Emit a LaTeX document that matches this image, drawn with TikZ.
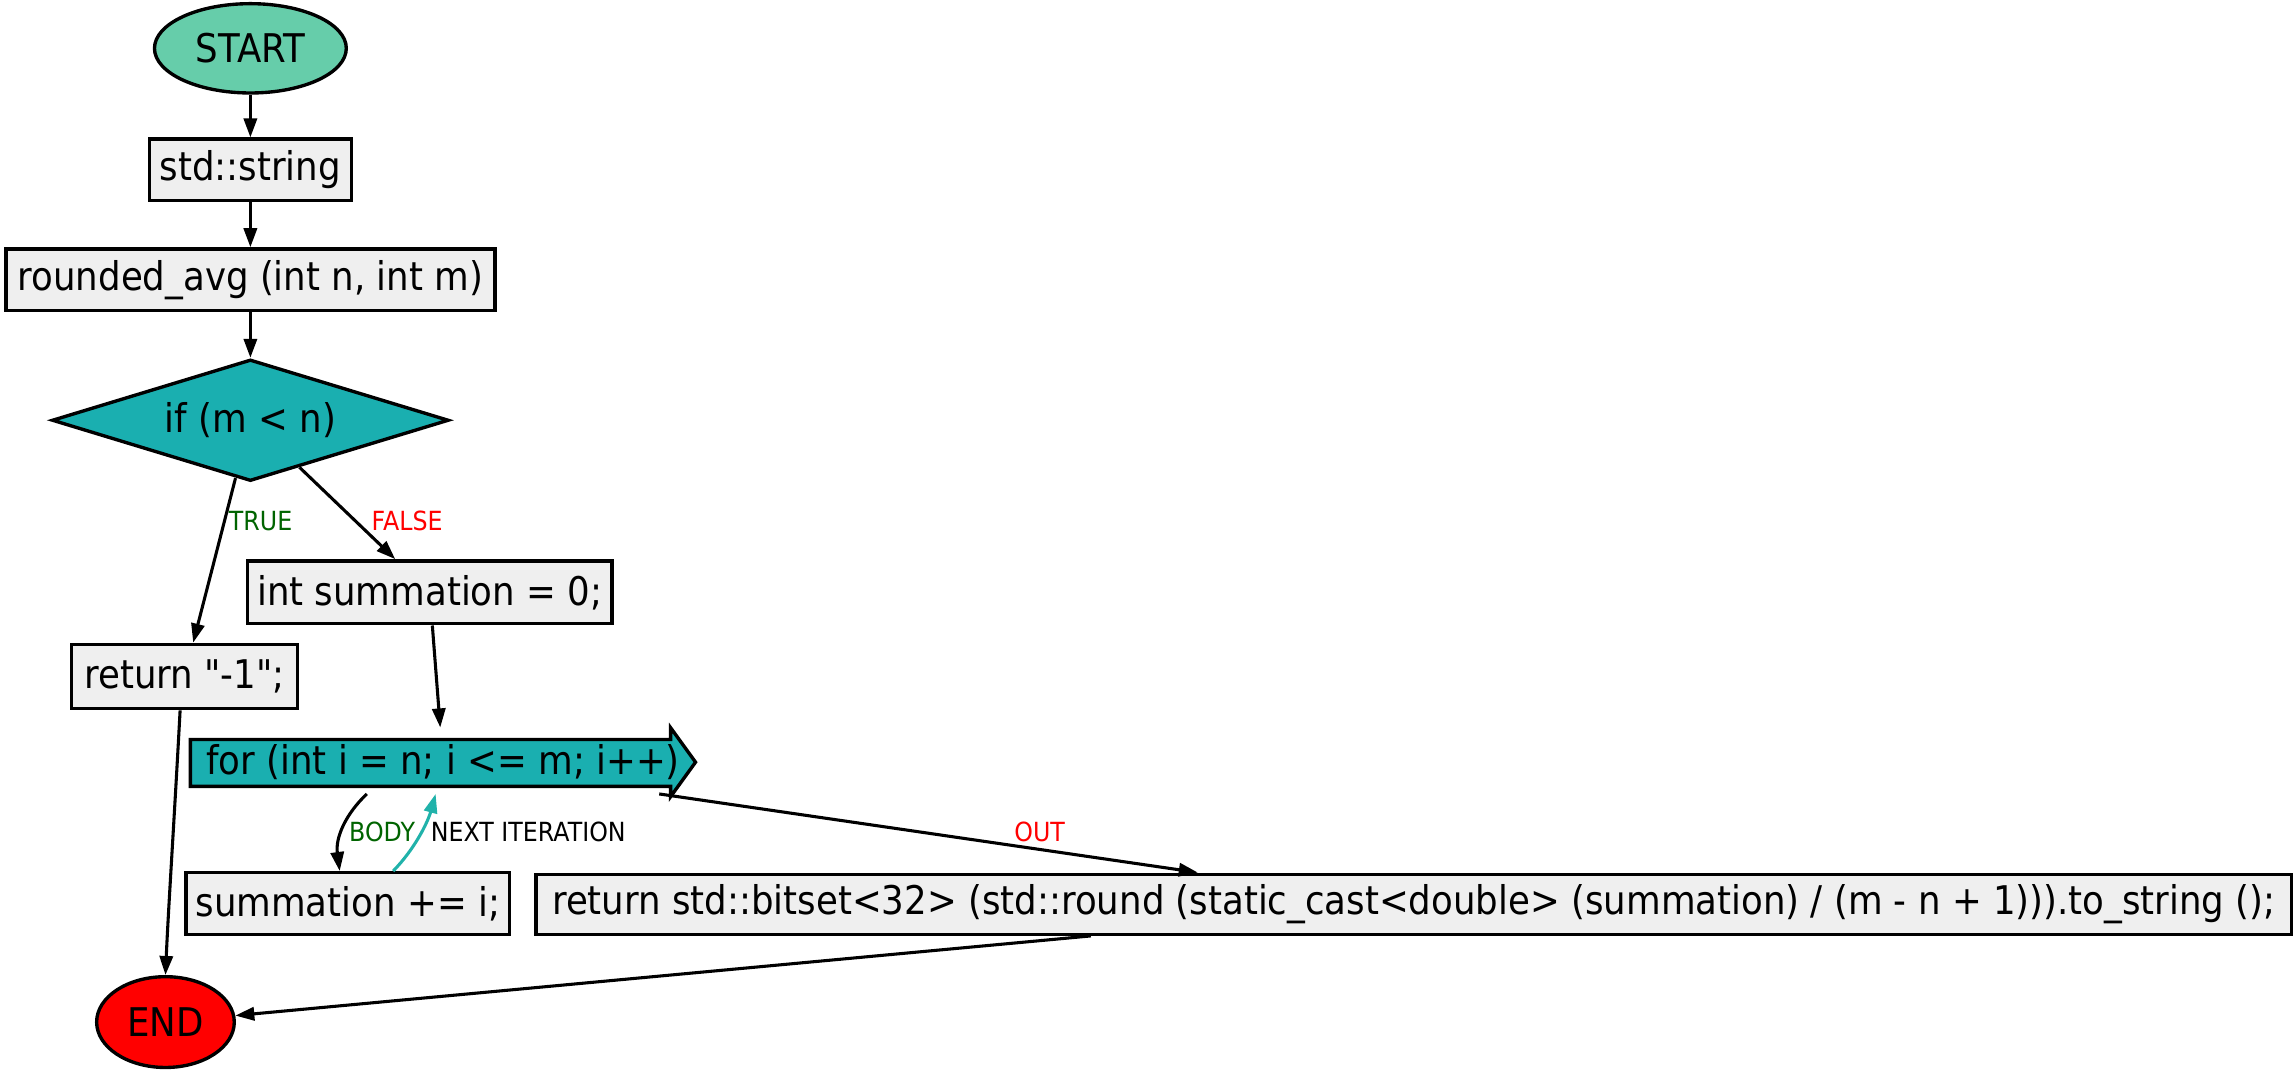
\documentclass[tikz,border=0pt]{standalone}
\usepackage{fontspec}
\setmainfont{DejaVu Sans}[FakeStretch=0.9, Ligatures=TeXOff]
\usetikzlibrary{shapes.geometric,arrows.meta,calc}
\definecolor{startfill}{HTML}{66CDAA}
\definecolor{tealfill}{HTML}{1AAFB0}
\definecolor{boxfill}{HTML}{EFEFEF}
\definecolor{endfill}{HTML}{FF0000}
\definecolor{lblgreen}{HTML}{006400}
\definecolor{lblred}{HTML}{FF0000}
\definecolor{nextcol}{HTML}{20B2AA}
\tikzset{
  mainfont/.style={font=\fontsize{27}{30}\selectfont},
  lblfont/.style={font=\fontsize{18}{20}\selectfont},
  stmt/.style={draw=black, line width=2.3pt, fill=boxfill, rectangle, inner sep=0pt, mainfont},
  term/.style={draw=black, line width=2.3pt, ellipse, inner sep=0pt, mainfont},
  decision/.style={draw=black, line width=2.3pt, diamond, fill=tealfill, inner sep=0pt, shape aspect=3.26, mainfont},
  loopbox/.style={rectangle, inner sep=0pt, mainfont},
  flow/.style={line width=2.1pt, -{Triangle[length=13pt,width=9pt]}},
  lbl/.style={inner sep=0pt, lblfont}
}
\begin{document}
\begin{tikzpicture}[x=1pt,y=-1pt]
\useasboundingbox (0,0) rectangle (1568,734);
% loop shape (cds)
\path[fill=tealfill, draw=black, line width=2.3pt, line join=miter]
  (130,505) -- (458,505) -- (458,497) -- (475,520.5) -- (458,544) -- (458,537) -- (130,537) -- cycle;
\node[term, fill=startfill, minimum width=131pt, minimum height=61pt] (start) at (171,33) {START};
\node[stmt, minimum width=138pt, minimum height=42pt] (str) at (171,116) {std::string};
\node[stmt, minimum width=334pt, minimum height=42pt] (func) at (171,191) {rounded\_avg (int n, int m)};
\node[decision, minimum width=271pt, minimum height=83pt] (cond) at (171,287) {if (m < n)};
\node[stmt, minimum width=249pt, minimum height=43pt] (init) at (293.5,404.5) {int summation = 0;};
\node[stmt, minimum width=154pt, minimum height=44pt] (ret1) at (126,462) {return "-1";};
\node[loopbox, minimum width=345pt, minimum height=47pt] (loop) at (302.5,520.5) {for (int i = n; i <= m; i++)};
\node[stmt, minimum width=221pt, minimum height=42pt] (summ) at (237.5,617) {summation += i;};
\node[stmt, minimum width=1199pt, minimum height=41pt] (ret) at (965.5,617.5) {return std::bitset<32> (std::round (static\_cast<double> (summation) / (m - n + 1))).to\_string ();};
\node[term, fill=endfill, minimum width=94pt, minimum height=62pt] (end) at (113,698) {END};
% edges
\draw[flow] (start) -- (str);
\draw[flow] (str) -- (func);
\draw[flow] (func) -- (cond);
\draw[flow] (cond) -- (ret1);
\draw[flow] (cond) -- (init);
\draw[flow] (init) -- (loop);
\draw[flow] ($(ret1.south)+(-3,0)$) .. controls (119,560) and (115,620) .. (end.north);
\draw[flow] ($(loop.south)+(-52,-2)$) .. controls (236,556) and (229,572) .. ($(summ.north)+(-5.5,0)$);
\draw[flow, draw=nextcol, -{Triangle[length=13pt,width=9pt,fill=nextcol]}] ($(summ.north)+(31,0)$) .. controls (283,580) and (292,562) .. ($(loop.south)+(-5,-2)$);
\draw[flow] ($(loop.south east)+(-25,-2)$) -- ($(ret.north)+(-147.5,0)$);
\draw[flow] ($(ret.south)+(-220.5,0)$) -- (end);
% labels
\node[lbl, text=lblgreen] (ltrue) at (178,356) {TRUE};
\node[lbl, text=lblred] (lfalse) at (278,356) {FALSE};
\node[lbl, text=lblgreen] (lbody) at (261,568) {BODY};
\node[lbl, text=black, anchor=west] (lnext) at (294,568) {NEXT ITERATION};
\node[lbl, text=lblred] (lout) at (710,568) {OUT};
\end{tikzpicture}
\end{document}
